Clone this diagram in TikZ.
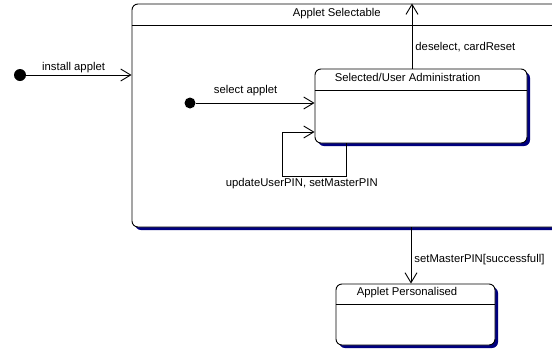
\documentclass[tikz,border=0pt]{standalone}
\usepackage{fontspec}
\setmainfont{Liberation Sans}
\usetikzlibrary{arrows.meta, positioning, shadows, calc}
\definecolor{C_LINE}{HTML}{000000}
\definecolor{C_SHAD}{HTML}{00007F}
\tikzset{
  %% -- state box with navy drop shadow --
  ST/state/.style={
    draw=C_LINE, line width=0.9pt, rounded corners=6pt, fill=white,
    drop shadow={shadow xshift=3pt, shadow yshift=-3pt,
      fill=C_SHAD, opacity=1},
    inner sep=0pt
  },
  %% -- state compartment line --
  ST/split/.style={draw=C_LINE, line width=0.9pt},
  %% -- initial pseudo state --
  ST/init/.style={circle, fill=C_LINE, inner sep=0pt},
  %% -- transition --
  ST/trans/.style={-{Straight Barb[length=10pt, width=12pt]},
    line width=0.9pt, color=C_LINE},
  %% -- state name --
  ST/title/.style={font=\fontsize{11.3}{13}\selectfont,
    inner sep=0pt, anchor=west},
  %% -- transition label --
  ST/lbl/.style={font=\fontsize{11.3}{13}\selectfont, inner sep=1.5pt},
}

\begin{document}
\begin{tikzpicture}[x=1pt, y=-1pt]
\useasboundingbox (0,0) rectangle (552,349);
\clip (0,0) rectangle (552,349);

%% States
\node[ST/state, minimum width=448pt, minimum height=223pt]
  (selectable) at (356,115.5) {};
\node[ST/state, minimum width=212pt, minimum height=74pt]
  (admin) at (421,106) {};
\node[ST/state, minimum width=159pt, minimum height=61pt]
  (perso) at (415.5,314.5) {};

%% Compartments
\draw[ST/split] ([yshift=-22pt]selectable.north west)
  -- ([yshift=-22pt]selectable.north east);
\draw[ST/split] ([yshift=-22pt]admin.north west)
  -- ([yshift=-22pt]admin.north east);
\draw[ST/split] ([yshift=-21pt]perso.north west)
  -- ([yshift=-21pt]perso.north east);

%% State names
\node[ST/title] (selectableT) at ([xshift=161pt, yshift=-10pt]selectable.north west)
  {Applet Selectable};
\node[ST/title] (adminT) at ([xshift=20pt, yshift=-9pt]admin.north west)
  {Selected/User Administration};
\node[ST/title] (persoT) at ([xshift=21pt, yshift=-9.5pt]perso.north west)
  {Applet Personalised};

%% Initial states
\node[ST/init, minimum size=12pt] (start)  at (20,75)  {};
\node[ST/init, minimum size=11pt] (start2) at (190,103) {};

%% Transitions
\draw[ST/trans] (start) -- node[ST/lbl, above, pos=0.45]{install applet}
  (start -| selectable.west);
\draw[ST/trans] (start2) -- node[ST/lbl, above=5pt, pos=0.42]{select applet}
  (start2 -| admin.west);

%% Self transition
\draw[ST/trans] ([xshift=32pt]admin.south west) -- ++(0,33)
  -- ++(-64,0) node[ST/lbl, below, pos=0.7]{updateUserPIN, setMasterPIN}
  |- ([yshift=-26pt]admin.west);

%% Leaving the selectable state
\draw[ST/trans] ([xshift=-9pt]admin.north)
  -- node[ST/lbl, right=1.5pt, pos=0.33]{deselect, cardReset}
  ([xshift=-9pt]admin.north |- selectable.north);
\draw[ST/trans] ([xshift=-4.5pt]perso.north |- selectable.south)
  -- node[ST/lbl, right=1.5pt, pos=0.58]{setMasterPIN[successfull]}
  ([xshift=-4.5pt]perso.north);
\end{tikzpicture}
\end{document}
